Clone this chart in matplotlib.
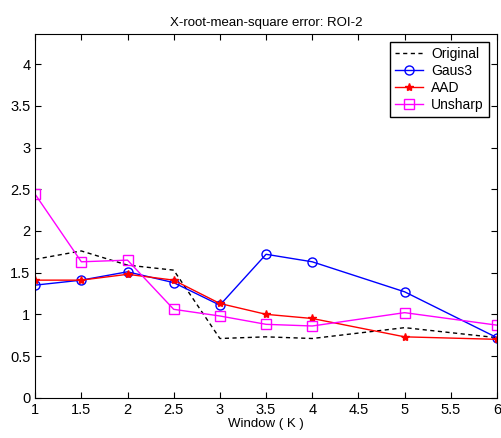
import numpy as np
import matplotlib
matplotlib.use("Agg")
from matplotlib import pyplot as plt

plt.rcParams['font.family'] = ['Liberation Sans', 'DejaVu Sans']

window = [1, 1.5, 2, 2.5, 3, 3.5, 4, 5, 6]
original = [1.66, 1.76, 1.59, 1.53, 0.71, 0.73, 0.71, 0.84, 0.72]
gaus3 = [1.35, 1.41, 1.51, 1.38, 1.11, 1.72, 1.63, 1.27, 0.72]
aad = [1.41, 1.41, 1.48, 1.41, 1.13, 1.00, 0.95, 0.73, 0.70]
unsharp = [2.44, 1.63, 1.65, 1.06, 0.98, 0.88, 0.86, 1.02, 0.87]

fig = plt.figure(figsize=(5.02, 4.38), dpi=100)
ax = fig.add_axes([0.07, 0.092, 0.92, 0.83])

ax.plot(window, original, 'k--', lw=1, dashes=(3, 2.5), label='Original')
ax.plot(window, gaus3, '-o', color='blue', lw=1, ms=6.5, mfc='none', label='Gaus3')
ax.plot(window, aad, '-*', color='red', lw=1, ms=6, label='AAD')
ax.plot(window, unsharp, '-s', color='magenta', lw=1, ms=6.5, mfc='none', label='Unsharp')

ax.set_xlim(1, 6)
ax.set_ylim(0, 4.36)
ax.set_xticks(np.arange(1, 6.01, 0.5))
ax.set_xticklabels(['1', '1.5', '2', '2.5', '3', '3.5', '4', '4.5', '5', '5.5', '6'])
ax.set_yticks(np.arange(0, 4.01, 0.5))
ax.set_yticklabels(['0', '0.5', '1', '1.5', '2', '2.5', '3', '3.5', '4'])
ax.tick_params(direction='in', top=True, right=True, labelsize=10.5, length=4)

ax.set_title('X-root-mean-square error: ROI-2', fontsize=9.5)
ax.set_xlabel('Window ( K )', fontsize=9.5, labelpad=1)

leg = ax.legend(loc='upper right', fontsize=10, fancybox=False, framealpha=1,
                edgecolor='black', handlelength=2.0, borderaxespad=0.6,
                labelspacing=0.2, borderpad=0.35, handletextpad=0.6)
leg.get_frame().set_linewidth(1)

fig.savefig('out.png', dpi=100)
